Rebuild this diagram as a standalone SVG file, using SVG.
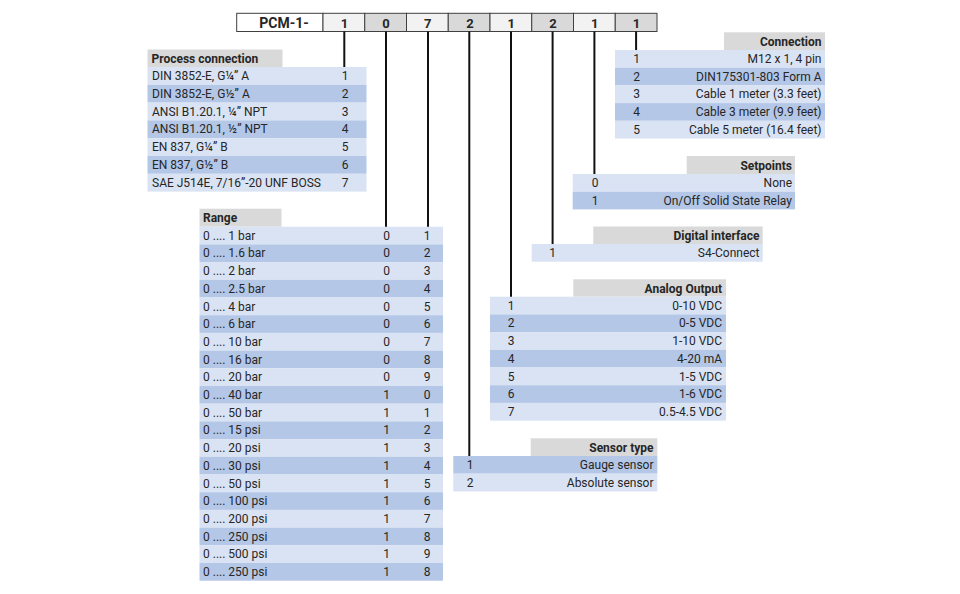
<svg xmlns="http://www.w3.org/2000/svg" width="960" height="594" viewBox="0 0 960 594">
<style>
text{font-family:Roboto,"Liberation Sans",sans-serif;font-size:12px;fill:#262626}
.hd{font-weight:bold;font-size:12px}
.m{text-anchor:middle}
.e{text-anchor:end}
.lt{fill:#dae3f3}
.dk{fill:#b4c7e7}
.hg{fill:#d9d9d9}
.cl{fill:#f2f2f2;stroke:#404040;stroke-width:1}
.cd{fill:#d9d9d9;stroke:#404040;stroke-width:1}
.cw{fill:#ffffff;stroke:#404040;stroke-width:1}
.ct{font-weight:bold;font-size:13px}
.pc{font-weight:bold;font-size:14px}
.ln{stroke:#111;stroke-width:2;fill:none}
</style>
<rect width="960" height="594" fill="#ffffff"/>

<g id="code">
<rect class="cw" x="236.7" y="13.3" width="86.3" height="18.2"/>
<rect class="cl" x="323" y="13.3" width="41.75" height="18.2"/>
<rect class="cd" x="364.75" y="13.3" width="41.75" height="18.2"/>
<rect class="cl" x="406.5" y="13.3" width="41.75" height="18.2"/>
<rect class="cd" x="448.25" y="13.3" width="41.75" height="18.2"/>
<rect class="cl" x="490" y="13.3" width="41.75" height="18.2"/>
<rect class="cd" x="531.75" y="13.3" width="41.75" height="18.2"/>
<rect class="cl" x="573.5" y="13.3" width="41.75" height="18.2"/>
<rect class="cd" x="615.25" y="13.3" width="41.75" height="18.2"/>
<text class="pc m" x="284" y="27.8">PCM-1-</text>
<text class="ct m" x="344.5" y="27.5">1</text>
<text class="ct m" x="386" y="27.5">0</text>
<text class="ct m" x="427.8" y="27.5">7</text>
<text class="ct m" x="470" y="27.5">2</text>
<text class="ct m" x="511.3" y="27.5">1</text>
<text class="ct m" x="553" y="27.5">2</text>
<text class="ct m" x="594.8" y="27.5">1</text>
<text class="ct m" x="636.5" y="27.5">1</text>
</g>

<g id="process-connection">
<rect class="hg" x="147.5" y="49.5" width="135" height="17.5"/>
<text class="hd" x="151.5" y="62.5">Process connection</text>
<g transform="translate(0,67)"><rect class="lt" x="147.5" y="0" width="219" height="17.8"/><text x="152" y="13">DIN 3852-E, G¼” A</text><text class="m" x="345" y="13">1</text></g>
<g transform="translate(0,84.8)"><rect class="dk" x="147.5" y="0" width="219" height="17.8"/><text x="152" y="13">DIN 3852-E, G½” A</text><text class="m" x="345" y="13">2</text></g>
<g transform="translate(0,102.6)"><rect class="lt" x="147.5" y="0" width="219" height="17.8"/><text x="152" y="13">ANSI B1.20.1, ¼” NPT</text><text class="m" x="345" y="13">3</text></g>
<g transform="translate(0,120.4)"><rect class="dk" x="147.5" y="0" width="219" height="17.8"/><text x="152" y="13">ANSI B1.20.1, ½” NPT</text><text class="m" x="345" y="13">4</text></g>
<g transform="translate(0,138.2)"><rect class="lt" x="147.5" y="0" width="219" height="17.8"/><text x="152" y="13">EN 837, G¼” B</text><text class="m" x="345" y="13">5</text></g>
<g transform="translate(0,156)"><rect class="dk" x="147.5" y="0" width="219" height="17.8"/><text x="152" y="13">EN 837, G½” B</text><text class="m" x="345" y="13">6</text></g>
<g transform="translate(0,173.8)"><rect class="lt" x="147.5" y="0" width="219" height="17.8"/><text x="152" y="13">SAE J514E, 7/16”-20 UNF BOSS</text><text class="m" x="345" y="13">7</text></g>
</g>

<g id="range">
<rect class="hg" x="199.5" y="208.7" width="82" height="18"/>
<text class="hd" x="203" y="222">Range</text>
<g transform="translate(0,226.7)"><rect class="lt" x="199.5" y="0" width="243.5" height="17.7"/><text x="203" y="13">0 .... 1 bar</text><text class="m" x="386.5" y="13">0</text><text class="m" x="427" y="13">1</text></g>
<g transform="translate(0,244.4)"><rect class="dk" x="199.5" y="0" width="243.5" height="17.7"/><text x="203" y="13">0 .... 1.6 bar</text><text class="m" x="386.5" y="13">0</text><text class="m" x="427" y="13">2</text></g>
<g transform="translate(0,262.1)"><rect class="lt" x="199.5" y="0" width="243.5" height="17.7"/><text x="203" y="13">0 .... 2 bar</text><text class="m" x="386.5" y="13">0</text><text class="m" x="427" y="13">3</text></g>
<g transform="translate(0,279.8)"><rect class="dk" x="199.5" y="0" width="243.5" height="17.7"/><text x="203" y="13">0 .... 2.5 bar</text><text class="m" x="386.5" y="13">0</text><text class="m" x="427" y="13">4</text></g>
<g transform="translate(0,297.5)"><rect class="lt" x="199.5" y="0" width="243.5" height="17.7"/><text x="203" y="13">0 .... 4 bar</text><text class="m" x="386.5" y="13">0</text><text class="m" x="427" y="13">5</text></g>
<g transform="translate(0,315.2)"><rect class="dk" x="199.5" y="0" width="243.5" height="17.7"/><text x="203" y="13">0 .... 6 bar</text><text class="m" x="386.5" y="13">0</text><text class="m" x="427" y="13">6</text></g>
<g transform="translate(0,332.9)"><rect class="lt" x="199.5" y="0" width="243.5" height="17.7"/><text x="203" y="13">0 .... 10 bar</text><text class="m" x="386.5" y="13">0</text><text class="m" x="427" y="13">7</text></g>
<g transform="translate(0,350.6)"><rect class="dk" x="199.5" y="0" width="243.5" height="17.7"/><text x="203" y="13">0 .... 16 bar</text><text class="m" x="386.5" y="13">0</text><text class="m" x="427" y="13">8</text></g>
<g transform="translate(0,368.3)"><rect class="lt" x="199.5" y="0" width="243.5" height="17.7"/><text x="203" y="13">0 .... 20 bar</text><text class="m" x="386.5" y="13">0</text><text class="m" x="427" y="13">9</text></g>
<g transform="translate(0,386)"><rect class="dk" x="199.5" y="0" width="243.5" height="17.7"/><text x="203" y="13">0 .... 40 bar</text><text class="m" x="386.5" y="13">1</text><text class="m" x="427" y="13">0</text></g>
<g transform="translate(0,403.7)"><rect class="lt" x="199.5" y="0" width="243.5" height="17.7"/><text x="203" y="13">0 .... 50 bar</text><text class="m" x="386.5" y="13">1</text><text class="m" x="427" y="13">1</text></g>
<g transform="translate(0,421.4)"><rect class="dk" x="199.5" y="0" width="243.5" height="17.7"/><text x="203" y="13">0 .... 15 psi</text><text class="m" x="386.5" y="13">1</text><text class="m" x="427" y="13">2</text></g>
<g transform="translate(0,439.1)"><rect class="lt" x="199.5" y="0" width="243.5" height="17.7"/><text x="203" y="13">0 .... 20 psi</text><text class="m" x="386.5" y="13">1</text><text class="m" x="427" y="13">3</text></g>
<g transform="translate(0,456.8)"><rect class="dk" x="199.5" y="0" width="243.5" height="17.7"/><text x="203" y="13">0 .... 30 psi</text><text class="m" x="386.5" y="13">1</text><text class="m" x="427" y="13">4</text></g>
<g transform="translate(0,474.5)"><rect class="lt" x="199.5" y="0" width="243.5" height="17.7"/><text x="203" y="13">0 .... 50 psi</text><text class="m" x="386.5" y="13">1</text><text class="m" x="427" y="13">5</text></g>
<g transform="translate(0,492.2)"><rect class="dk" x="199.5" y="0" width="243.5" height="17.7"/><text x="203" y="13">0 .... 100 psi</text><text class="m" x="386.5" y="13">1</text><text class="m" x="427" y="13">6</text></g>
<g transform="translate(0,509.9)"><rect class="lt" x="199.5" y="0" width="243.5" height="17.7"/><text x="203" y="13">0 .... 200 psi</text><text class="m" x="386.5" y="13">1</text><text class="m" x="427" y="13">7</text></g>
<g transform="translate(0,527.6)"><rect class="dk" x="199.5" y="0" width="243.5" height="17.7"/><text x="203" y="13">0 .... 250 psi</text><text class="m" x="386.5" y="13">1</text><text class="m" x="427" y="13">8</text></g>
<g transform="translate(0,545.3)"><rect class="lt" x="199.5" y="0" width="243.5" height="17.7"/><text x="203" y="13">0 .... 500 psi</text><text class="m" x="386.5" y="13">1</text><text class="m" x="427" y="13">9</text></g>
<g transform="translate(0,563)"><rect class="dk" x="199.5" y="0" width="243.5" height="17.7"/><text x="203" y="13">0 .... 250 psi</text><text class="m" x="386.5" y="13">1</text><text class="m" x="427" y="13">8</text></g>
</g>

<g id="connection">
<rect class="hg" x="724" y="32.3" width="101" height="17.7"/>
<text class="hd e" x="821.5" y="45.5">Connection</text>
<g transform="translate(0,50)"><rect class="lt" x="615" y="0" width="210" height="17.7"/><text class="m" x="636.5" y="13">1</text><text class="e" x="821.5" y="13">M12 x 1, 4 pin</text></g>
<g transform="translate(0,67.7)"><rect class="dk" x="615" y="0" width="210" height="17.7"/><text class="m" x="636.5" y="13">2</text><text class="e" x="821.5" y="13">DIN175301-803 Form A</text></g>
<g transform="translate(0,85.4)"><rect class="lt" x="615" y="0" width="210" height="17.7"/><text class="m" x="636.5" y="13">3</text><text class="e" x="821.5" y="13">Cable 1 meter (3.3 feet)</text></g>
<g transform="translate(0,103.1)"><rect class="dk" x="615" y="0" width="210" height="17.7"/><text class="m" x="636.5" y="13">4</text><text class="e" x="821.5" y="13">Cable 3 meter (9.9 feet)</text></g>
<g transform="translate(0,120.8)"><rect class="lt" x="615" y="0" width="210" height="17.7"/><text class="m" x="636.5" y="13">5</text><text class="e" x="821.5" y="13">Cable 5 meter (16.4 feet)</text></g>
</g>

<g id="setpoints">
<rect class="hg" x="686.7" y="156" width="108.3" height="18"/>
<text class="hd e" x="792" y="169.5">Setpoints</text>
<g transform="translate(0,174)"><rect class="lt" x="572.7" y="0" width="222.3" height="17.7"/><text class="m" x="595" y="13">0</text><text class="e" x="792" y="13">None</text></g>
<g transform="translate(0,191.7)"><rect class="dk" x="572.7" y="0" width="222.3" height="17.7"/><text class="m" x="595" y="13">1</text><text class="e" x="792" y="13">On/Off Solid State Relay</text></g>
</g>

<g id="digital-interface">
<rect class="hg" x="593.3" y="226.5" width="169.4" height="17.5"/>
<text class="hd e" x="759.5" y="240">Digital interface</text>
<g transform="translate(0,244)"><rect class="lt" x="531.7" y="0" width="231" height="17.7"/><text class="m" x="552.5" y="13">1</text><text class="e" x="759.5" y="13">S4-Connect</text></g>
</g>

<g id="analog-output">
<rect class="hg" x="573.3" y="279.3" width="152.7" height="17.4"/>
<text class="hd e" x="722" y="292.5">Analog Output</text>
<g transform="translate(0,296.7)"><rect class="lt" x="490" y="0" width="236" height="17.7"/><text class="m" x="511" y="13">1</text><text class="e" x="722" y="13">0-10 VDC</text></g>
<g transform="translate(0,314.4)"><rect class="dk" x="490" y="0" width="236" height="17.7"/><text class="m" x="511" y="13">2</text><text class="e" x="722" y="13">0-5 VDC</text></g>
<g transform="translate(0,332.1)"><rect class="lt" x="490" y="0" width="236" height="17.7"/><text class="m" x="511" y="13">3</text><text class="e" x="722" y="13">1-10 VDC</text></g>
<g transform="translate(0,349.8)"><rect class="dk" x="490" y="0" width="236" height="17.7"/><text class="m" x="511" y="13">4</text><text class="e" x="722" y="13">4-20 mA</text></g>
<g transform="translate(0,367.5)"><rect class="lt" x="490" y="0" width="236" height="17.7"/><text class="m" x="511" y="13">5</text><text class="e" x="722" y="13">1-5 VDC</text></g>
<g transform="translate(0,385.2)"><rect class="dk" x="490" y="0" width="236" height="17.7"/><text class="m" x="511" y="13">6</text><text class="e" x="722" y="13">1-6 VDC</text></g>
<g transform="translate(0,402.9)"><rect class="lt" x="490" y="0" width="236" height="17.7"/><text class="m" x="511" y="13">7</text><text class="e" x="722" y="13">0.5-4.5 VDC</text></g>
</g>

<g id="sensor-type">
<rect class="hg" x="530.7" y="438.3" width="126.6" height="17.7"/>
<text class="hd e" x="653.5" y="451.5">Sensor type</text>
<g transform="translate(0,456)"><rect class="dk" x="453.3" y="0" width="204" height="17.7"/><text class="m" x="470" y="13">1</text><text class="e" x="653.5" y="13">Gauge sensor</text></g>
<g transform="translate(0,473.7)"><rect class="lt" x="453.3" y="0" width="204" height="17.7"/><text class="m" x="470" y="13">2</text><text class="e" x="653.5" y="13">Absolute sensor</text></g>
</g>

<g id="connectors" class="ln">
<line x1="344.3" y1="31.5" x2="344.3" y2="67"/>
<line x1="386" y1="31.5" x2="386" y2="226.7"/>
<line x1="428" y1="31.5" x2="428" y2="226.7"/>
<line x1="469.3" y1="31.5" x2="469.3" y2="456"/>
<line x1="511" y1="31.5" x2="511" y2="296.7"/>
<line x1="552.6" y1="31.5" x2="552.6" y2="244"/>
<line x1="594.4" y1="31.5" x2="594.4" y2="174"/>
<line x1="636.1" y1="31.5" x2="636.1" y2="50"/>
</g>
</svg>
